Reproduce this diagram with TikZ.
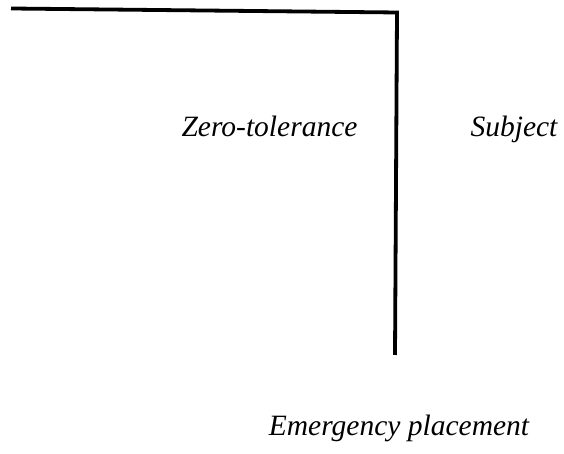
\documentclass[tikz,border=0pt]{standalone}
\usepackage{fontspec}
\setmainfont{Liberation Serif}[ItalicFont={Liberation Serif Italic}]
\begin{document}
\begin{tikzpicture}[x=1pt,y=1pt,
  lbl/.style={font=\fontsize{29.5}{33}\selectfont\itshape, anchor=base, inner sep=0pt},
  rule/.style={line width=3.8pt, line join=miter}]
\useasboundingbox (0,0) rectangle (564,454);
\coordinate (s) at (11,445.5);
\coordinate (c) at (397,441.5);
\coordinate (e) at (395,99);
\draw[rule] (s) -- (c) -- (e);
\node[lbl] (zt) at (269.5,317) {Zero-tolerance};
\node[lbl] (sub) at (514,317) {Subject};
\node[lbl] (em) at (399,18) {Emergency placement};
\end{tikzpicture}
\end{document}
